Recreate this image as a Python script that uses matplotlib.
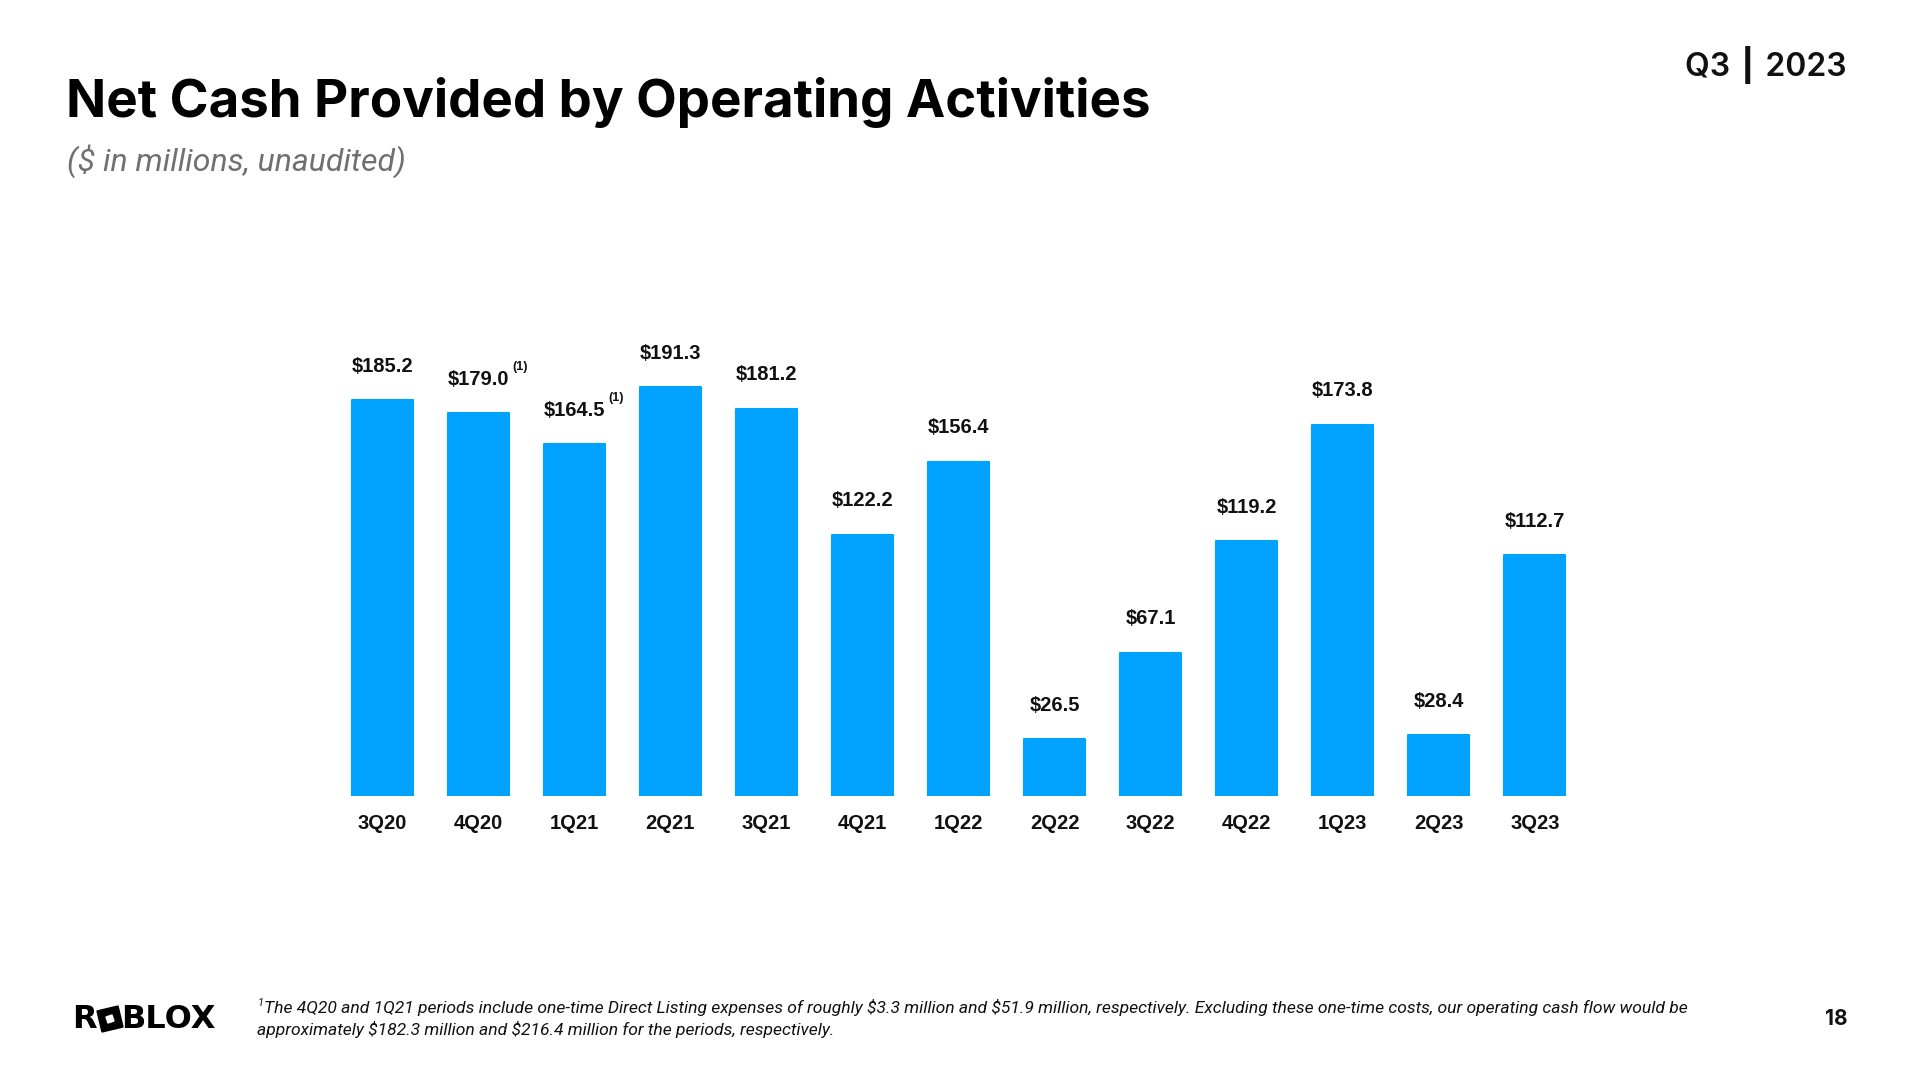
import matplotlib
matplotlib.use("Agg")
import matplotlib.pyplot as plt
from matplotlib.patches import Polygon

quarters = ["3Q20", "4Q20", "1Q21", "2Q21", "3Q21", "4Q21", "1Q22",
            "2Q22", "3Q22", "4Q22", "1Q23", "2Q23", "3Q23"]
cash_flow = [185.2, 179.0, 164.5, 191.3, 181.2, 122.2, 156.4,
             26.5, 67.1, 119.2, 173.8, 28.4, 112.7]
footnoted = ["4Q20", "1Q21"]

title = "Net Cash Provided by Operating Activities"
subtitle = "($ in millions, unaudited)"
footnote_1 = ("The 4Q20 and 1Q21 periods include one-time Direct Listing expenses of roughly "
              "$3.3 million and $51.9 million, respectively. Excluding these one-time costs, "
              "our operating cash flow would be")
footnote_2 = "approximately $182.3 million and $216.4 million for the periods, respectively."

BLUE = "#00A2FF"
INK = "#111111"
W, H = 1920, 1080

plt.rcParams["text.parse_math"] = False
fig = plt.figure(figsize=(W / 100, H / 100), dpi=100)


def fx(px):
    return px / W


def fy(py):
    return 1 - py / H


# chart area: baseline at y=796px, bars centred 382px .. 1536px
ax = fig.add_axes([fx(334), fy(796), fx(1249), 250 * 2.137 / H])
x = range(len(quarters))
ax.bar(x, cash_flow, width=0.635, color=BLUE, edgecolor=BLUE,
       linewidth=1.5, joinstyle="round")
ax.set_xlim(-0.5, len(quarters) - 0.5)
ax.set_ylim(0, 250)
ax.set_xticks(list(x))
ax.set_xticklabels(quarters, fontfamily="Liberation Sans", fontweight="bold",
                   fontsize=14.5, color=INK)
ax.tick_params(axis="x", length=0, pad=13)
ax.set_yticks([])
for s in ax.spines.values():
    s.set_visible(False)

for i, (q, v) in enumerate(zip(quarters, cash_flow)):
    ax.annotate(f"${v:.1f}", xy=(i, v), xytext=(0, 34), textcoords="offset pixels",
                ha="center", va="center", fontfamily="Liberation Sans",
                fontweight="bold", fontsize=14.5, color=INK)
    if q in footnoted:
        ax.annotate("(1)", xy=(i, v), xytext=(42, 46), textcoords="offset pixels",
                    ha="center", va="center", fontfamily="Liberation Sans",
                    fontweight="bold", fontsize=9, color=INK)

# header
fig.text(fx(66), fy(102), title, fontfamily="Inter", fontweight="bold",
         fontsize=38, color="black", va="center", ha="left")
fig.text(fx(67), fy(161), subtitle, fontfamily="Roboto", style="italic",
         fontsize=23, color="#707070", va="center", ha="left")
fig.text(fx(1847), fy(65), "Q3 \u2503 2023", family=["Inter", "DejaVu Sans"],
         fontweight="semibold", fontsize=23, color=INK, va="center", ha="right")

# footer
fig.text(fx(264), fy(1008), footnote_1, fontfamily="Roboto", style="italic",
         fontsize=12.6, color=INK, va="center", ha="left")
fig.text(fx(257), fy(1030), footnote_2, fontfamily="Roboto", style="italic",
         fontsize=12.6, color=INK, va="center", ha="left")
fig.text(fx(258), fy(1003), "1", fontfamily="Roboto", style="italic",
         fontsize=8, color=INK, va="center", ha="left")
fig.text(fx(1848), fy(1019), "18", fontfamily="Inter", fontweight="bold",
         fontsize=15, color=INK, va="center", ha="right")

# ROBLOX wordmark with the tilted square "O"
fig.text(fx(72), fy(1019), "R", fontfamily="DejaVu Sans", fontweight="heavy",
         fontsize=23, color="black", va="center", ha="left")
fig.text(fx(121), fy(1019), "BLOX", fontfamily="DejaVu Sans", fontweight="heavy",
         fontsize=23, color="black", va="center", ha="left")
cx, cy = 110, 1019
outer = [(cx - 13, cy - 8), (cx + 8, cy - 13), (cx + 13, cy + 8), (cx - 8, cy + 13)]
inner = [(cx - 4, cy - 2), (cx + 2, cy - 4), (cx + 4, cy + 2), (cx - 2, cy + 4)]
fig.patches.append(Polygon([(fx(a), fy(b)) for a, b in outer], closed=True,
                           transform=fig.transFigure, color="black"))
fig.patches.append(Polygon([(fx(a), fy(b)) for a, b in inner], closed=True,
                           transform=fig.transFigure, color="white"))

fig.savefig("out.png", dpi=100, facecolor="white")
